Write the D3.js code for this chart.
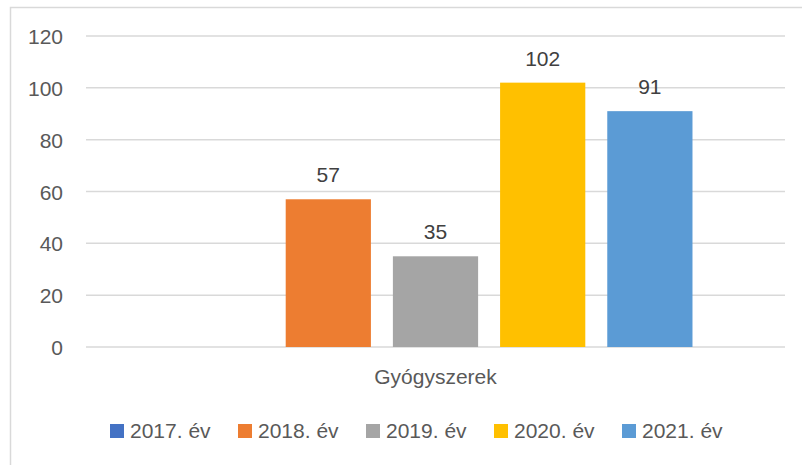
<!DOCTYPE html>
<html>
<head>
<meta charset="utf-8">
<script src="https://cdn.jsdelivr.net/npm/d3@7"></script>
<style>
  body { margin: 0; background: #fff; }
  svg { display: block; font-family: "Liberation Sans", Arial, sans-serif; }
  .axis text { fill: #595959; font-size: 21px; }
  .bar-label { fill: #404040; font-size: 21px; }
  .legend-text { fill: #595959; font-size: 21px; }
</style>
</head>
<body>
<div id="chart"></div>
<script>
// chart data
var categories = ["Gyógyszerek"];
var years = ["2017. év", "2018. év", "2019. év", "2020. év", "2021. év"];
var values = [null, 57, 35, 102, 91];
var yTicks = [0, 20, 40, 60, 80, 100, 120];
var colors = ["#4472C4", "#ED7D31", "#A5A5A5", "#FFC000", "#5B9BD5"];

var W = 802, H = 465;
var margin = { top: 36, right: 17, bottom: 118, left: 86 };
var width = W - margin.left - margin.right,
    height = H - margin.top - margin.bottom;

var svg = d3.select("#chart").append("svg")
    .attr("width", W)
    .attr("height", H);

// outer chart frame (only left and top edges visible)
svg.append("path")
    .attr("d", "M10.5," + H + "V7.5H" + W)
    .attr("fill", "none")
    .attr("stroke", "#D9D9D9")
    .attr("stroke-width", 1.5);

var g = svg.append("g")
    .attr("transform", "translate(" + margin.left + "," + margin.top + ")");

// scales
var x0 = d3.scaleBand()
    .domain(categories)
    .range([0, width])
    .paddingOuter(0.18);

var x1 = d3.scaleBand()
    .domain(years)
    .range([0, x0.bandwidth()])
    .paddingInner(0.205);

var y = d3.scaleLinear()
    .domain([0, 120])
    .range([height, 0]);

var color = d3.scaleOrdinal().domain(years).range(colors);

// gridlines
g.selectAll(".grid")
    .data(yTicks)
    .enter().append("line")
    .attr("class", "grid")
    .attr("x1", 0)
    .attr("x2", width)
    .attr("y1", function(d) { return y(d); })
    .attr("y2", function(d) { return y(d); })
    .attr("stroke", "#D9D9D9")
    .attr("stroke-width", 1.5);

// y axis
var yAxis = d3.axisLeft(y).tickValues(yTicks).tickSize(0).tickPadding(23);
g.append("g")
    .attr("class", "axis y-axis")
    .call(yAxis)
    .call(function(s) { s.select(".domain").remove(); })
    .selectAll("text")
    .attr("dy", "0.36em");

// x axis (category label)
var xAxis = d3.axisBottom(x0).tickSize(0).tickPadding(22);
g.append("g")
    .attr("class", "axis x-axis")
    .attr("transform", "translate(0," + height + ")")
    .call(xAxis)
    .call(function(s) { s.select(".domain").remove(); });

// bars
var data = years.map(function(yr, i) { return { year: yr, value: values[i] }; });
var grp = g.selectAll(".cat")
    .data(categories)
    .enter().append("g")
    .attr("class", "cat")
    .attr("transform", function(d) { return "translate(" + x0(d) + ",0)"; });

grp.selectAll(".bar")
    .data(data.filter(function(d) { return d.value != null; }))
    .enter().append("rect")
    .attr("class", "bar")
    .attr("x", function(d) { return x1(d.year); })
    .attr("width", x1.bandwidth())
    .attr("y", function(d) { return y(d.value); })
    .attr("height", function(d) { return height - y(d.value); })
    .attr("fill", function(d) { return color(d.year); });

grp.selectAll(".bar-label")
    .data(data.filter(function(d) { return d.value != null; }))
    .enter().append("text")
    .attr("class", "bar-label")
    .attr("text-anchor", "middle")
    .attr("x", function(d) { return x1(d.year) + x1.bandwidth() / 2; })
    .attr("y", function(d) { return y(d.value) - 17; })
    .text(function(d) { return d.value; });

// legend
var legendStep = 128, legendX = 110, legendY = 424;
var legend = svg.selectAll(".legend")
    .data(years)
    .enter().append("g")
    .attr("class", "legend")
    .attr("transform", function(d, i) { return "translate(" + (legendX + i * legendStep) + "," + legendY + ")"; });

legend.append("rect")
    .attr("width", 14)
    .attr("height", 14)
    .attr("fill", function(d) { return color(d); });

legend.append("text")
    .attr("class", "legend-text")
    .attr("x", 20)
    .attr("y", 14)
    .text(function(d) { return d; });
</script>
</body>
</html>
